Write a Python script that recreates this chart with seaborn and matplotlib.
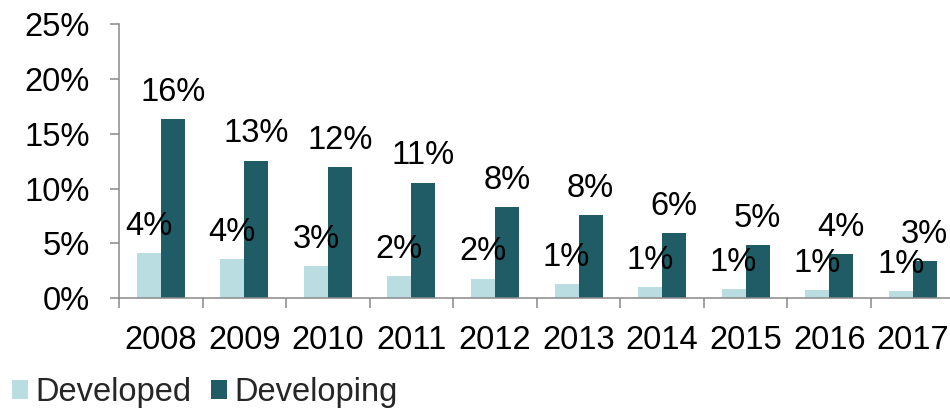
import matplotlib
matplotlib.use("Agg")
import matplotlib.pyplot as plt
from matplotlib.patches import Patch
from matplotlib.ticker import FixedLocator, FuncFormatter
import numpy as np
import pandas as pd
import seaborn as sns

years = ["2008", "2009", "2010", "2011", "2012", "2013", "2014", "2015", "2016", "2017"]
developed = [4.1, 3.55, 2.9, 2.05, 1.8, 1.3, 1.03, 0.88, 0.76, 0.67]
developing = [16.3, 12.55, 12.0, 10.55, 8.3, 7.6, 5.96, 4.84, 4.04, 3.4]
series = ["Developed", "Developing"]
colors = ["#b9dde0", "#1f5c66"]

df = pd.DataFrame({
    "year": years * 2,
    "share": developed + developing,
    "group": [series[0]] * len(years) + [series[1]] * len(years),
})

sns.set_theme(style="white")
plt.rcParams["font.family"] = ["Liberation Sans", "DejaVu Sans"]
fs = 23.5

fig = plt.figure(figsize=(9.5, 4.09), dpi=100)
ax = fig.add_axes([119 / 950, 110.7 / 409, 835.5 / 950, 274.3 / 409])

sns.barplot(data=df, x="year", y="share", hue="group", hue_order=series,
            palette=colors, width=0.575, gap=0, saturation=1, legend=False,
            order=years, ax=ax, edgecolor="none", linewidth=0)

for cont, vals in zip(ax.containers, [developed, developing]):
    ax.bar_label(cont, labels=[f"{v:.0f}%" for v in vals], padding=8,
                 fontsize=fs, color="black")

ax.set_ylim(0, 25)
ax.set_xlim(-0.5, len(years) - 0.5)
ax.set_yticks(np.arange(0, 26, 5))
ax.yaxis.set_major_formatter(FuncFormatter(lambda v, p: f"{v:.0f}%"))

# category boundaries carry the tick marks, centres carry the labels
ax.xaxis.set_major_locator(FixedLocator(np.arange(-0.5, len(years), 1.0)))
ax.xaxis.set_minor_locator(FixedLocator(np.arange(len(years))))
ax.set_xticklabels([], minor=False)
ax.set_xticklabels(years, minor=True)
ax.tick_params(axis="x", which="major", length=7.2, width=1.1, color="#898989",
               direction="out", bottom=True)
ax.tick_params(axis="x", which="minor", length=0, pad=19, labelsize=fs,
               labelcolor="black")
ax.tick_params(axis="y", length=6.5, width=1.1, color="#898989", direction="out",
               left=True, pad=14.4, labelsize=fs, labelcolor="black")

ax.set_xlabel("")
ax.set_ylabel("")
for side in ["top", "right"]:
    ax.spines[side].set_visible(False)
for side in ["left", "bottom"]:
    ax.spines[side].set_color("#898989")
    ax.spines[side].set_linewidth(1.1)

handles = [Patch(facecolor=c, edgecolor="none", label=s) for c, s in zip(colors, series)]
fig.legend(handles=handles, loc="lower left", bbox_to_anchor=(10 / 950, -1 / 409),
           ncol=2, frameon=False, fontsize=fs, handlelength=0.5,
           handleheight=0.5, handletextpad=0.22, columnspacing=0.6,
           borderpad=0.05, borderaxespad=0)

fig.savefig("out.png", dpi=100)
